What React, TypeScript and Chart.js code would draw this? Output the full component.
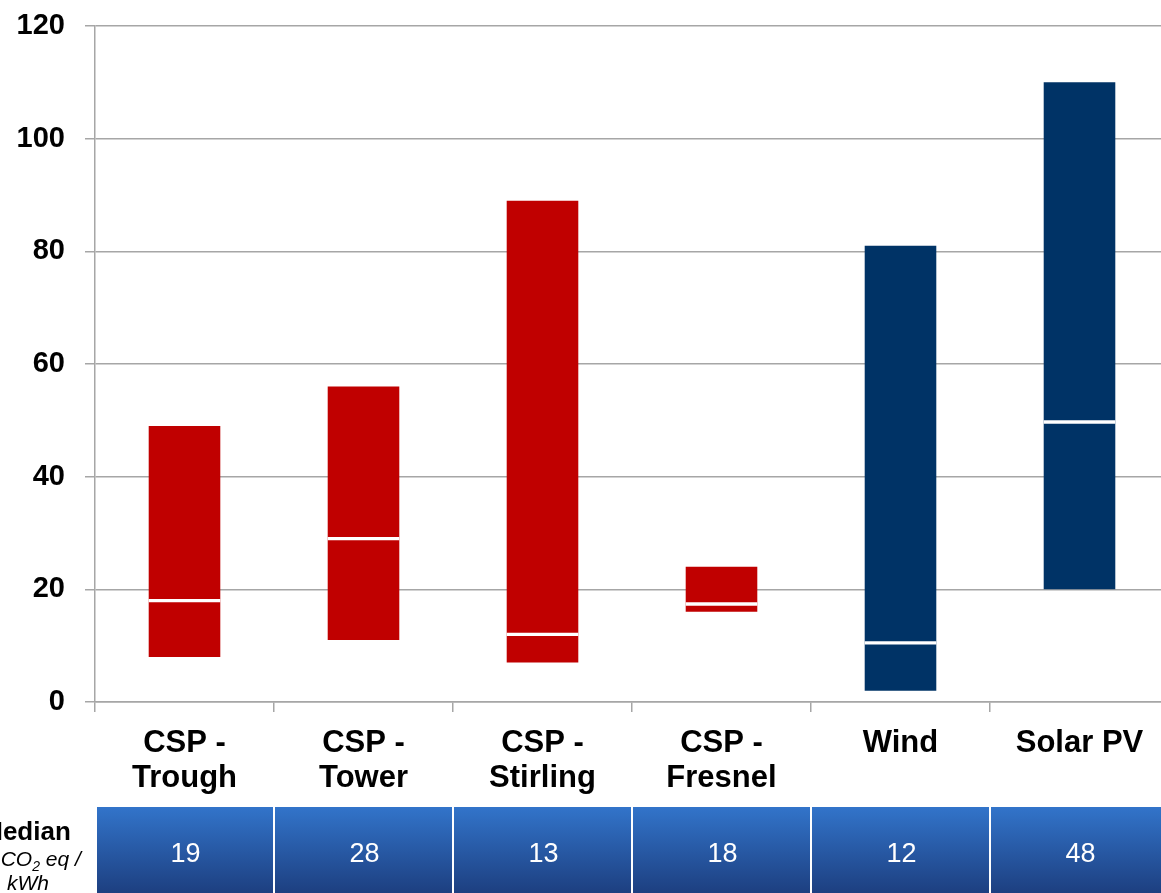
import React, { useEffect, useRef } from "react";
import { Chart, registerables } from "chart.js";

Chart.register(...registerables);

const categories: string[][] = [
  ["CSP -", "Trough"],
  ["CSP -", "Tower"],
  ["CSP -", "Stirling"],
  ["CSP -", "Fresnel"],
  ["Wind"],
  ["Solar PV"],
];
const minValues = [8, 11, 7, 16, 2, 20];
const maxValues = [49, 56, 89, 24, 81, 110];
const medianMarks = [18, 29, 12, 17.4, 10.5, 49.7];
const medianTable = [19, 28, 13, 18, 12, 48];
const barColors = ["#C00000", "#C00000", "#C00000", "#C00000", "#003366", "#003366"];
const yTicks = [0, 20, 40, 60, 80, 100, 120];

const GRID = "#A6A6A6";
const FONT = "'Liberation Sans', Arial, sans-serif";

const tablePlugin = {
  id: "medianTable",
  afterDraw(chart: any) {
    const ctx = chart.ctx as CanvasRenderingContext2D;
    const x = chart.scales.x;
    const step = x.getPixelForValue(1) - x.getPixelForValue(0);
    const top = 807;
    const bottom = chart.height;
    ctx.save();
    medianTable.forEach((v, i) => {
      const c = x.getPixelForValue(i);
      const l = c - step / 2 + (i === 0 ? 2 : 1);
      const r = c + step / 2 - 1;
      const g = ctx.createLinearGradient(0, top, 0, bottom);
      g.addColorStop(0, "#3274CA");
      g.addColorStop(1, "#1D3F80");
      ctx.fillStyle = g;
      ctx.fillRect(l, top, r - l, bottom - top);
      ctx.fillStyle = "#FFFFFF";
      ctx.font = `27px ${FONT}`;
      ctx.textAlign = "center";
      ctx.textBaseline = "middle";
      ctx.fillText(String(v), c + 1, 854.5);
    });
    // left label
    ctx.fillStyle = "#000000";
    ctx.textAlign = "center";
    ctx.textBaseline = "alphabetic";
    ctx.font = `bold 26px ${FONT}`;
    ctx.fillText("Median", 26, 840);
    ctx.font = `italic 21px ${FONT}`;
    const p1 = "g CO";
    const p2 = " eq /";
    const w1 = ctx.measureText(p1).width;
    const w3 = ctx.measureText(p2).width;
    ctx.font = `italic 14px ${FONT}`;
    const w2 = ctx.measureText("2").width;
    const total = w1 + w2 + w3;
    const sx = 32 - total / 2;
    ctx.textAlign = "left";
    ctx.font = `italic 21px ${FONT}`;
    ctx.fillText(p1, sx, 866);
    ctx.font = `italic 14px ${FONT}`;
    ctx.fillText("2", sx + w1, 871);
    ctx.font = `italic 21px ${FONT}`;
    ctx.fillText(p2, sx + w1 + w2, 866);
    ctx.textAlign = "center";
    ctx.fillText("kWh", 28, 890);
    ctx.restore();
  },
};

export default function App() {
  const ref = useRef<HTMLCanvasElement>(null);
  useEffect(() => {
    if (!ref.current) return;
    const chart = new Chart(ref.current, {
      type: "bar",
      data: {
        labels: categories,
        datasets: [
          {
            label: "Median",
            data: medianMarks.map((m) => [m - 0.3, m + 0.3]),
            backgroundColor: "#FFFFFF",
            borderWidth: 0,
            grouped: false,
            order: 0,
          } as any,
          {
            label: "Range",
            data: minValues.map((mn, i) => [mn, maxValues[i]]),
            backgroundColor: barColors,
            borderWidth: 0,
            grouped: false,
            order: 1,
          } as any,
        ],
      },
      options: {
        animation: false,
        responsive: false,
        devicePixelRatio: 1,
        datasets: { bar: { barPercentage: 0.4, categoryPercentage: 1.0 } },
        layout: { padding: { top: 26, left: 0, right: 0, bottom: 0 } },
        plugins: { legend: { display: false }, tooltip: { enabled: false } },
        scales: {
          x: {
            grid: {
              offset: true,
              drawOnChartArea: false,
              drawTicks: true,
              tickLength: 10,
              color: GRID,
              lineWidth: 1.5,
            },
            border: { color: GRID, width: 1.5 },
            ticks: {
              color: "#000000",
              font: { family: FONT, size: 31, weight: "bold", lineHeight: 1.13 },
              padding: 14,
              maxRotation: 0,
              autoSkip: false,
            },
            afterFit: (s: any) => {
              s.height = 191;
            },
          },
          y: {
            min: 0,
            max: 120,
            afterBuildTicks: (s: any) => {
              s.ticks = yTicks.map((v) => ({ value: v }));
            },
            grid: { color: GRID, lineWidth: 1.5, tickLength: 10 },
            border: { color: GRID, width: 1.5 },
            ticks: {
              color: "#000000",
              font: { family: FONT, size: 29, weight: "bold" },
              padding: 20,
            },
            afterFit: (s: any) => {
              s.width = 95;
              s.paddingTop = 10;
              s.paddingBottom = 10;
            },
          },
        },
      },
      plugins: [tablePlugin],
    });
    return () => chart.destroy();
  }, []);
  return (
    <div
      style={{
        position: "fixed",
        left: 0,
        top: 0,
        width: 1161,
        height: 893,
        overflow: "hidden",
        background: "#FFFFFF",
      }}
    >
      <canvas ref={ref} width={1169} height={893} style={{ width: 1169, height: 893, display: "block" }} />
    </div>
  );
}
